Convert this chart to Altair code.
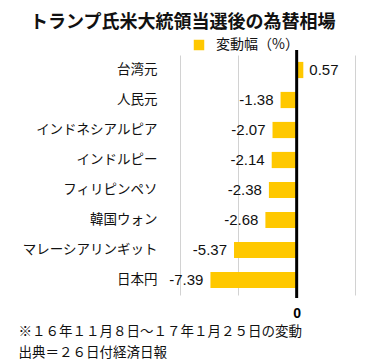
import altair as alt
import pandas as pd

categories = ["台湾元", "人民元", "インドネシアルピア", "インドルピー", "フィリピンペソ", "韓国ウォン", "マレーシアリンギット", "日本円"]
values = [0.57, -1.38, -2.07, -2.14, -2.38, -2.68, -5.37, -7.39]
series_name = "変動幅（%）"
title_text = "トランプ氏米大統領当選後の為替相場"
notes = ["※１６年１１月８日〜１７年１月２５日の変動", "出典＝２６日付経済日報"]
x_ticks = [-10, -5, 0, 5]

df = pd.DataFrame({"cur": categories, "v": values, "s": [series_name] * len(values)})
df["lbl"] = df["v"].map(lambda x: f"{x:.2f}")

JP = "Noto Sans CJK JP"
NUM = "Liberation Sans"

xs = alt.Scale(domain=[-10, 5], nice=False, zero=False)
ys = alt.Scale(domain=categories, paddingInner=0.46, paddingOuter=0.23)

base = alt.Chart(df)

bars = base.mark_bar(color="#FFC800").encode(
    x=alt.X("v:Q", scale=xs,
            axis=alt.Axis(values=x_ticks, grid=True, gridColor="#d2d2d2", gridWidth=1,
                          domain=False, ticks=False,
                          labelExpr="datum.value === 0 ? '0' : ''",
                          labelFont=NUM, labelFontSize=14, labelFontWeight="bold",
                          labelColor="#000", labelPadding=11,
                          title=notes, titleFont=JP, titleFontSize=13.5,
                          titleFontWeight="normal", titleColor="#111",
                          titleAnchor="start", titleAlign="left", titleX=-162,
                          titleY=29, titleBaseline="top", titleLineHeight=21)),
    y=alt.Y("cur:N", scale=ys, sort=categories,
            axis=alt.Axis(title=None, domain=False, ticks=False, labelPadding=23,
                          labelFont=JP, labelFontSize=13.5, labelColor="#111")),
    color=alt.Color("s:N", scale=alt.Scale(range=["#FFC800"]),
                    legend=alt.Legend(title=None, orient="none", legendX=12, legendY=-17,
                                      symbolType="square", symbolSize=110,
                                      symbolStrokeWidth=0, labelFont=JP,
                                      labelFontSize=14, labelColor="#111", padding=0,
                                      labelOffset=10)),
)

neg = base.transform_filter("datum.v < 0").mark_text(
    align="right", baseline="middle", dx=-7, font=NUM, fontSize=15, color="#111"
).encode(x=alt.X("v:Q", scale=xs), y=alt.Y("cur:N", scale=ys, sort=categories), text="lbl:N")

pos = base.transform_filter("datum.v >= 0").mark_text(
    align="left", baseline="middle", dx=6, font=NUM, fontSize=15, color="#111"
).encode(x=alt.X("v:Q", scale=xs), y=alt.Y("cur:N", scale=ys, sort=categories), text="lbl:N")

zero = alt.Chart(pd.DataFrame({"z": [0]})).mark_rule(color="#000", strokeWidth=3).encode(
    x=alt.X("z:Q", scale=xs), y=alt.value(-5), y2=alt.value(243)
)

chart = alt.layer(bars, zero, neg, pos).properties(
    width=175, height=240,
    autosize=alt.AutoSizeParams(type="none"),
    padding={"left": 172, "top": 47, "right": 4, "bottom": 64},
    title=alt.TitleParams(title_text, anchor="start", frame="group", dx=-150, dy=19, offset=11,
                          baseline="alphabetic", font=JP, fontSize=18, fontWeight="bold",
                          color="#111"),
).configure_view(stroke=None)

chart.save("out.html", embed_options={"renderer": "svg", "actions": False})
